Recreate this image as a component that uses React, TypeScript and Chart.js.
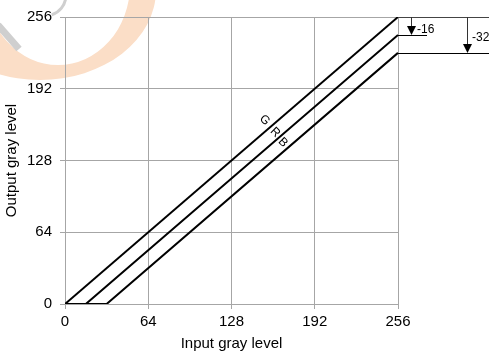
import React, { useEffect, useRef } from 'react';
import { Chart, registerables } from 'chart.js';

Chart.register(...registerables);

// ---- data ----
const tickValues = [0, 64, 128, 192, 256];
const gInput = [0, 256];
const gOutput = [0, 256];
const rInput = [0, 16, 256];
const rOutput = [0, 0, 240];
const bInput = [0, 32, 256];
const bOutput = [0, 0, 224];
const channelNames = ['G', 'R', 'B'];
const channelLabelX = [153.5, 161.5, 167.5];
const channelLabelY = [164, 153, 144];
const offsets = [-16, -32];
const xTitle = 'Input gray level';
const yTitle = 'Output gray level';

const FONT = "'Liberation Sans', Arial, sans-serif";
const GRID = '#a6a6a6';

const toPoints = (xs: number[], ys: number[]) => xs.map((x, i) => ({ x, y: ys[i] }));

const overlay = {
  id: 'overlay',
  beforeDraw(chart: any) {
    const ctx = chart.ctx;
    ctx.save();
    ctx.fillStyle = '#ffffff';
    ctx.fillRect(0, 0, chart.width, chart.height);
    // faint watermark
    ctx.fillStyle = 'rgb(251, 222, 199)';
    ctx.beginPath();
    ctx.ellipse(40, -10, 116, 90, 0, 0, Math.PI * 2);
    ctx.ellipse(58, -15, 72, 80, 0, 0, Math.PI * 2);
    ctx.fill('evenodd');
    ctx.strokeStyle = '#cfcfcf';
    ctx.lineWidth = 3;
    ctx.beginPath();
    ctx.arc(45, -5, 21, 0.1, 1.25);
    ctx.stroke();
    ctx.lineWidth = 7;
    ctx.beginPath();
    ctx.moveTo(-2, 25);
    ctx.lineTo(19, 49);
    ctx.stroke();
    ctx.restore();
  },
  afterDraw(chart: any) {
    const ctx = chart.ctx;
    const xs = chart.scales.x;
    const ys = chart.scales.y;
    const right = chart.chartArea.right;
    const W = chart.width;
    const yTop = ys.getPixelForValue(256);
    const y1 = ys.getPixelForValue(256 + offsets[0]);
    const y2 = ys.getPixelForValue(256 + offsets[1]);
    ctx.save();
    ctx.lineWidth = 1;
    ctx.strokeStyle = '#444';
    ctx.beginPath();
    ctx.moveTo(right, Math.round(yTop) + 0.5);
    ctx.lineTo(W, Math.round(yTop) + 0.5);
    ctx.stroke();
    ctx.strokeStyle = '#000';
    ctx.beginPath();
    ctx.moveTo(right, Math.round(y1) + 0.5);
    ctx.lineTo(right + 29, Math.round(y1) + 0.5);
    ctx.moveTo(right, Math.round(y2) + 0.5);
    ctx.lineTo(W, Math.round(y2) + 0.5);
    ctx.stroke();
    const arrow = (ax: number, yFrom: number, yTo: number) => {
      ctx.strokeStyle = '#333';
      ctx.beginPath();
      ctx.moveTo(ax + 0.5, yFrom);
      ctx.lineTo(ax + 0.5, yTo - 6);
      ctx.stroke();
      ctx.fillStyle = '#000';
      ctx.beginPath();
      ctx.moveTo(ax + 0.5, yTo);
      ctx.lineTo(ax - 4, yTo - 9);
      ctx.lineTo(ax + 5, yTo - 9);
      ctx.closePath();
      ctx.fill();
    };
    arrow(right + 13, yTop, y1);
    arrow(right + 69, yTop, y2);
    ctx.fillStyle = '#000';
    ctx.font = `12px ${FONT}`;
    ctx.textBaseline = 'middle';
    ctx.textAlign = 'left';
    ctx.fillText(String(offsets[0]), right + 19, yTop + 13);
    ctx.fillText(String(offsets[1]), right + 74, yTop + 21);
    // channel labels
    ctx.font = `12px ${FONT}`;
    ctx.textAlign = 'center';
    channelNames.forEach((n, i) => {
      ctx.save();
      ctx.translate(xs.getPixelForValue(channelLabelX[i]), ys.getPixelForValue(channelLabelY[i]));
      ctx.rotate(Math.PI / 4);
      ctx.fillText(n, 0, 0);
      ctx.restore();
    });
    ctx.restore();
  },
};

export default function App() {
  const ref = useRef<HTMLCanvasElement | null>(null);
  useEffect(() => {
    if (!ref.current) return;
    const lineStyle = {
      showLine: true,
      borderColor: '#000',
      borderWidth: 2,
      pointRadius: 0,
      fill: false,
      tension: 0,
    };
    const chart = new Chart(ref.current, {
      type: 'scatter',
      data: {
        datasets: [
          { label: channelNames[0], data: toPoints(gInput, gOutput), ...lineStyle },
          { label: channelNames[1], data: toPoints(rInput, rOutput), ...lineStyle },
          { label: channelNames[2], data: toPoints(bInput, bOutput), ...lineStyle },
        ],
      },
      options: {
        animation: false,
        responsive: true,
        maintainAspectRatio: false,
        layout: { padding: { left: 0, top: 16, right: 91, bottom: 0 } },
        plugins: { legend: { display: false }, tooltip: { enabled: false } },
        scales: {
          x: {
            type: 'linear',
            min: 0,
            max: 256,
            afterBuildTicks: (s: any) => { s.ticks = tickValues.map((v) => ({ value: v })); },
            afterFit: (s: any) => { s.height = 49; },
            grid: { color: GRID, tickLength: 5, drawTicks: true },
            border: { color: GRID },
            ticks: { color: '#000', font: { family: FONT, size: 15 }, padding: 4, maxRotation: 0 },
            title: { display: true, text: xTitle, color: '#000', font: { family: FONT, size: 15 }, padding: { top: 0, bottom: 0 } },
          },
          y: {
            type: 'linear',
            min: 0,
            max: 256,
            afterBuildTicks: (s: any) => { s.ticks = tickValues.map((v) => ({ value: v })); },
            afterFit: (s: any) => { s.width = 65; },
            grid: { color: GRID, tickLength: 5, drawTicks: true },
            border: { color: GRID },
            ticks: { color: '#000', font: { family: FONT, size: 15 }, padding: 8 },
            title: { display: true, text: yTitle, color: '#000', font: { family: FONT, size: 15 }, padding: { top: 3, bottom: 0 } },
          },
        },
      },
      plugins: [overlay],
    } as any);
    return () => chart.destroy();
  }, []);
  return (
    <div style={{ position: 'fixed', left: 0, top: 0, width: 489, height: 353 }}>
      <canvas ref={ref} />
    </div>
  );
}
